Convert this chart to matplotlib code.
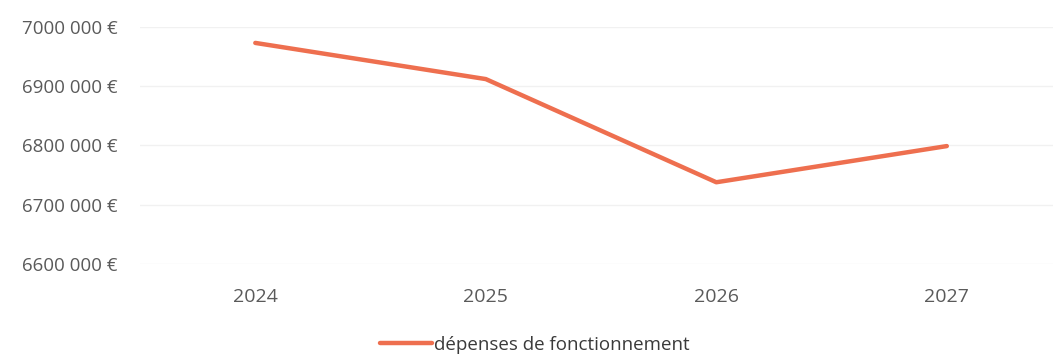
import numpy as np
import matplotlib.pyplot as plt
from matplotlib.ticker import FuncFormatter

years = ['2024', '2025', '2026', '2027']
depenses = [6973000, 6912000, 6738000, 6799000]
y_ticks = [6600000, 6700000, 6800000, 6900000, 7000000]

plt.rcParams['font.family'] = ['Open Sans', 'DejaVu Sans']


def euro(v, pos):
    s = '%d' % int(round(v))
    return s[:-3] + ' ' + s[-3:] + ' €'


fig = plt.figure(figsize=(10.53, 3.54), dpi=100)
ax = fig.add_axes([0.133, 0.254, 0.8756, 0.67])

x = np.arange(len(years))
ax.plot(x, depenses, color='#EE6F4F', lw=3.2, solid_capstyle='round',
        label='dépenses de fonctionnement', clip_on=False)

ax.set_xlim(-0.5, len(years) - 0.5)
ax.set_ylim(y_ticks[0], y_ticks[-1])
ax.set_yticks(y_ticks)
ax.yaxis.set_major_formatter(FuncFormatter(euro))
ax.set_xticks(x)
ax.set_xticklabels(years)

ax.grid(axis='y', color='#F1F1F1', lw=1)
ax.set_axisbelow(True)
for s in ax.spines.values():
    s.set_visible(False)
ax.tick_params(axis='both', length=0, labelcolor='#5A5A5A')
ax.tick_params(axis='y', pad=16, labelsize=13.5)
ax.tick_params(axis='x', pad=17, labelsize=14)

fig.legend(loc='lower center', bbox_to_anchor=(0.508, -0.047), frameon=False,
           fontsize=13.5, handlelength=2.8, handletextpad=0.1,
           labelcolor='#3A3A3A')

fig.savefig('out.png', dpi=100)
